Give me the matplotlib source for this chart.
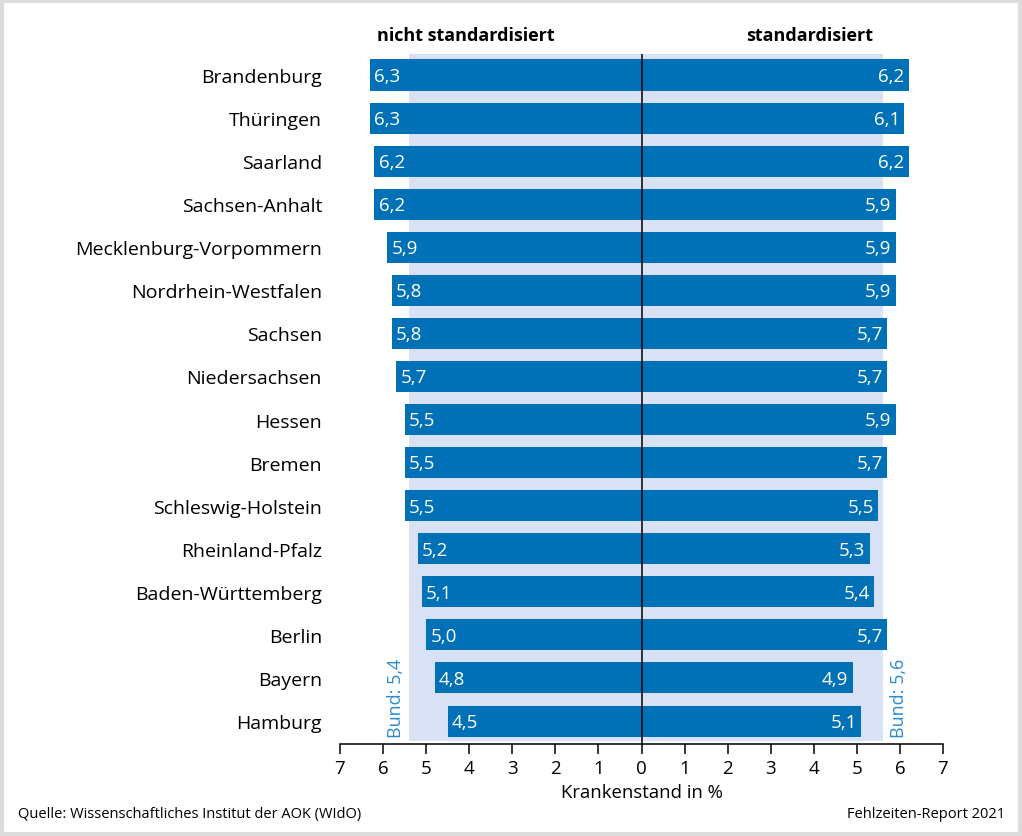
import numpy as np
import matplotlib.pyplot as plt
from matplotlib.patches import Rectangle

plt.rcParams['font.family'] = ['Open Sans', 'DejaVu Sans']

laender = ["Brandenburg", "Thüringen", "Saarland", "Sachsen-Anhalt",
           "Mecklenburg-Vorpommern", "Nordrhein-Westfalen", "Sachsen",
           "Niedersachsen", "Hessen", "Bremen", "Schleswig-Holstein",
           "Rheinland-Pfalz", "Baden-Württemberg", "Berlin", "Bayern", "Hamburg"]
nicht_std = [6.3, 6.3, 6.2, 6.2, 5.9, 5.8, 5.8, 5.7, 5.5, 5.5, 5.5, 5.2, 5.1, 5.0, 4.8, 4.5]
std = [6.2, 6.1, 6.2, 5.9, 5.9, 5.9, 5.7, 5.7, 5.9, 5.7, 5.5, 5.3, 5.4, 5.7, 4.9, 5.1]
bund_nicht_std = 5.4
bund_std = 5.6
ticks = np.arange(-7, 8)

bar_col = "#0071b7"
shade_col = "#d9e2f4"
bund_col = "#2a8bcc"

fig = plt.figure(figsize=(10.22, 8.37), dpi=100)
ax = fig.add_axes([340 / 1022, 1 - 745 / 837, 603 / 1022, 690 / 837])

y = np.arange(len(laender))
ytop = -21 / 43.07
ybot = 669 / 43.07

ax.fill_betweenx([ytop, (742 - 76) / 43.07], -bund_nicht_std, bund_std,
                 color=shade_col, lw=0, zorder=0)
ax.barh(y, [-v for v in nicht_std], height=0.72, color=bar_col, zorder=2)
ax.barh(y, std, height=0.72, color=bar_col, zorder=2)
ax.plot([0, 0], [ytop, ybot], color="black", lw=1.1, zorder=3)

fmt = lambda v: f"{v:.1f}".replace(".", ",")
for i in y:
    ax.text(-nicht_std[i] + 0.1, i + 0.02, fmt(nicht_std[i]), color="white",
            fontsize=13.5, ha="left", va="center", zorder=4)
    ax.text(std[i] - 0.1, i + 0.02, fmt(std[i]), color="white",
            fontsize=13.5, ha="right", va="center", zorder=4)

ax.text(-5.71, (738 - 76) / 43.07, "Bund: " + fmt(bund_nicht_std), rotation=90,
        color=bund_col, fontsize=13, ha="center", va="bottom")
ax.text(5.97, (738 - 76) / 43.07, "Bund: " + fmt(bund_std), rotation=90,
        color=bund_col, fontsize=13, ha="center", va="bottom")

ax.text(-4.09, ytop - 0.45, "nicht standardisiert", fontsize=13,
        fontweight="bold", ha="center", va="center")
ax.text(3.9, ytop - 0.45, "standardisiert", fontsize=13,
        fontweight="bold", ha="center", va="center")

ax.set_xlim(-7, 7)
ax.set_ylim(ybot, ytop)
ax.set_xticks(ticks)
ax.set_xticklabels([str(abs(t)) for t in ticks], fontsize=13.5)
ax.set_yticks(y)
ax.set_yticklabels(laender, fontsize=14)
ax.tick_params(axis="y", length=0, pad=13)
ax.tick_params(axis="x", length=7, width=1.1, pad=4)
for s in ["top", "left", "right"]:
    ax.spines[s].set_visible(False)
ax.spines["bottom"].set_linewidth(1.1)
ax.set_xlabel("Krankenstand in %", fontsize=13.3, labelpad=4)

fig.text(18 / 1022, 1 - 815 / 837, "Quelle: Wissenschaftliches Institut der AOK (WIdO)",
         fontsize=10.5, ha="left", va="center")
fig.text(1005 / 1022, 1 - 815 / 837, "Fehlzeiten-Report 2021",
         fontsize=10.5, ha="right", va="center")

fig.patches.append(Rectangle((0.0015, 0.002), 0.997, 0.996, transform=fig.transFigure,
                             fill=False, edgecolor="#dcdcdc", lw=3))

fig.savefig("out.png", dpi=100)
